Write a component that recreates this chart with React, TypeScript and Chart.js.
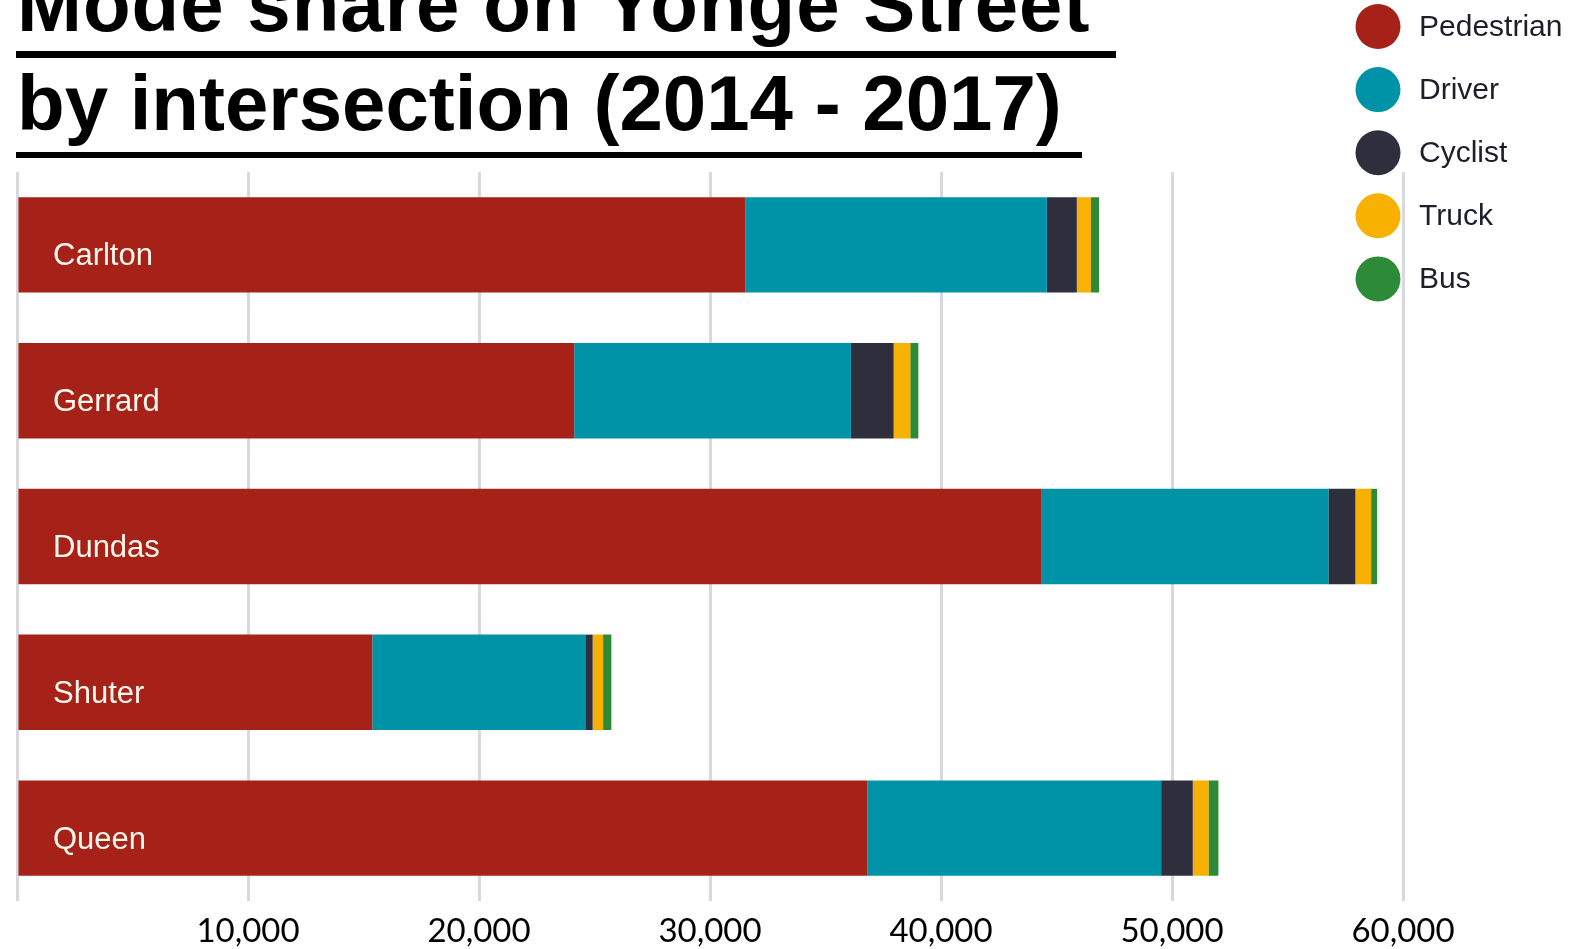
import React, { useEffect, useRef } from 'react';
import { Chart, registerables } from 'chart.js';

Chart.register(...registerables);

// ---- data ----
const intersections = ['Carlton', 'Gerrard', 'Dundas', 'Shuter', 'Queen'];
const modeNames = ['Pedestrian', 'Driver', 'Cyclist', 'Truck', 'Bus'];
const pedestrian = [31540, 24120, 44360, 15380, 36810];
const driver = [13040, 11980, 12410, 9220, 12720];
const cyclist = [1300, 1850, 1170, 320, 1370];
const truck = [610, 720, 680, 450, 680];
const bus = [350, 350, 260, 360, 430];
const xTickValues = [0, 10000, 20000, 30000, 40000, 50000, 60000];
const titleLines = ['Mode share on Yonge Street', 'by intersection (2014 - 2017)'];

const modeColors = ['#A62118', '#0093A7', '#2F2E3C', '#F8B100', '#2D8A36'];
const seriesValues = [pedestrian, driver, cyclist, truck, bus];

const W = 1589;
const H = 949;

const titlePlugin = {
  id: 'yongeTitle',
  afterDraw(chart: any) {
    const ctx = chart.ctx;
    ctx.save();
    ctx.fillStyle = '#000000';
    ctx.textAlign = 'left';
    ctx.textBaseline = 'alphabetic';
    ctx.font = 'bold 78px "Liberation Sans", Arial, sans-serif';
    try { (ctx as any).letterSpacing = '1px'; } catch (e) {}
    ctx.fillText(titleLines[0], 17, 31);
    try { (ctx as any).letterSpacing = '0px'; } catch (e) {}
    ctx.fillText(titleLines[1], 17, 130);
    ctx.fillRect(16, 51, 1100, 7);
    ctx.fillRect(16, 152, 1066, 6);
    ctx.restore();
  },
};

const legendPlugin = {
  id: 'circleLegend',
  afterDraw(chart: any) {
    const ctx = chart.ctx;
    ctx.save();
    chart.data.datasets.forEach((ds: any, i: number) => {
      const cy = 26.5 + i * 63.1;
      ctx.beginPath();
      ctx.arc(1378, cy, 22.5, 0, Math.PI * 2);
      ctx.fillStyle = ds.backgroundColor;
      ctx.fill();
      ctx.fillStyle = '#1d1d2b';
      ctx.font = '30px "Liberation Sans", Arial, sans-serif';
      ctx.textAlign = 'left';
      ctx.textBaseline = 'middle';
      ctx.fillText(ds.label, 1419, cy + 1);
    });
    ctx.restore();
  },
};

export default function App() {
  const ref = useRef<HTMLCanvasElement | null>(null);

  useEffect(() => {
    if (!ref.current) return;
    const chart = new Chart(ref.current, {
      type: 'bar',
      data: {
        labels: intersections,
        datasets: modeNames.map((name, i) => ({
          label: name,
          data: seriesValues[i],
          backgroundColor: modeColors[i],
          borderWidth: 0,
          categoryPercentage: 1,
          barPercentage: 0.654,
        })),
      },
      options: {
        indexAxis: 'y',
        responsive: false,
        animation: false,
        layout: { padding: { left: 17, right: W - 1403, top: 172, bottom: 0 } },
        plugins: {
          legend: { display: false },
          title: { display: false },
          tooltip: { enabled: false },
        },
        scales: {
          x: {
            type: 'linear',
            stacked: true,
            min: 0,
            max: 60000,
            afterFit: (s: any) => {
              s.height = 48;
            },
            afterBuildTicks: (s: any) => {
              s.ticks = xTickValues.map((v) => ({ value: v }));
            },
            grid: {
              color: '#d7d9df',
              lineWidth: 3,
              drawTicks: false,
            },
            border: { display: false },
            ticks: {
              padding: 11,
              color: '#000000',
              font: { family: 'Lato, "Open Sans", sans-serif', size: 33 },
              callback: (v: any) => (v === 0 ? '' : Number(v).toLocaleString('en-US')),
            },
          },
          y: {
            type: 'category',
            stacked: true,
            afterFit: (s: any) => {
              s.width = 0;
              s.paddingTop = 0;
              s.paddingBottom = 0;
            },
            grid: { display: false, drawTicks: false },
            border: { display: false },
            ticks: {
              mirror: true,
              padding: 36,
              labelOffset: 12,
              z: 1,
              color: '#FFF8EE',
              font: { family: '"Liberation Sans Narrow", "Liberation Sans", sans-serif', size: 31 },
            },
          },
        },
      },
      plugins: [titlePlugin, legendPlugin],
    });
    return () => chart.destroy();
  }, []);

  return (
    <div style={{ position: 'fixed', left: 0, top: 0, width: W, height: H, background: '#ffffff', overflow: 'hidden' }}>
      <canvas ref={ref} width={W} height={H} style={{ width: W, height: H, display: 'block' }} />
    </div>
  );
}
